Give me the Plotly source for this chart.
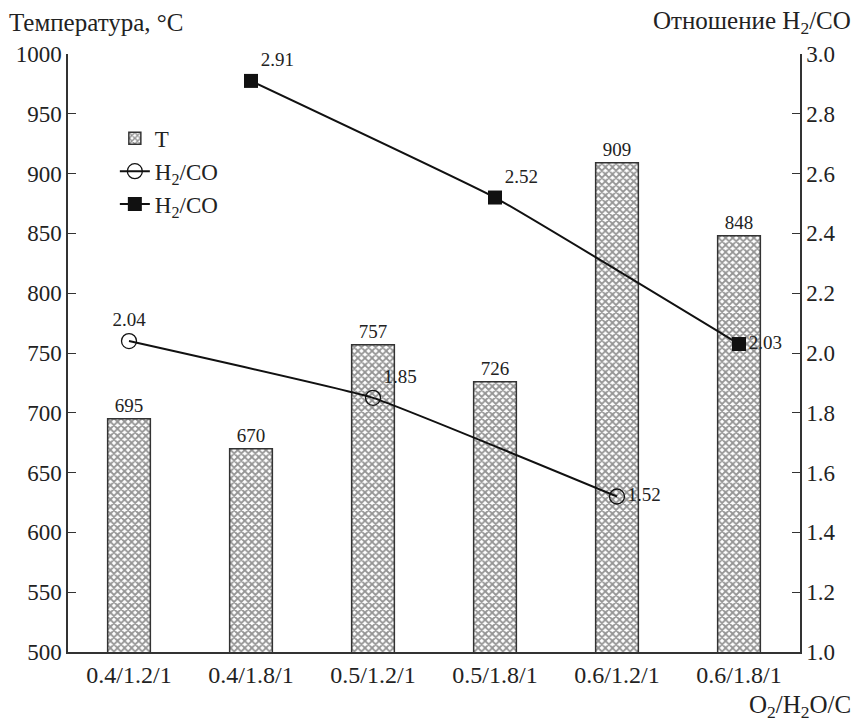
import plotly.graph_objects as go

categories = ["0.4/1.2/1", "0.4/1.8/1", "0.5/1.2/1", "0.5/1.8/1", "0.6/1.2/1", "0.6/1.8/1"]
temperature = [695, 670, 757, 726, 909, 848]
ratio_open_x = ["0.4/1.2/1", "0.5/1.2/1", "0.6/1.2/1"]
ratio_open = [2.04, 1.85, 1.52]
ratio_filled_x = ["0.4/1.8/1", "0.5/1.8/1", "0.6/1.8/1"]
ratio_filled = [2.91, 2.52, 2.03]

FONT = "Liberation Serif, Times New Roman, serif"

fig = go.Figure()
fig.add_trace(go.Bar(
    x=categories, y=temperature, name="T", width=0.35,
    marker=dict(color="white", line=dict(color="#333", width=1.5),
                pattern=dict(shape="x", size=5, solidity=0.6, fgcolor="#2a2a2a", bgcolor="white")),
    text=[str(v) for v in temperature], textposition="outside",
    textfont=dict(family=FONT, size=19, color="#222"), cliponaxis=False,
))
fig.add_trace(go.Scatter(
    x=ratio_open_x, y=ratio_open, yaxis="y2", name="H<sub>2</sub>/CO",
    mode="lines+markers+text", line=dict(color="#111", width=2, shape="spline", smoothing=0.3),
    marker=dict(symbol="circle-open", size=15, color="#111", line=dict(width=1.3)),
    text=[f"{v:.2f}" for v in ratio_open],
    textposition=["top center", "top right", "middle right"],
    textfont=dict(family=FONT, size=19, color="#222"), cliponaxis=False,
))
fig.add_trace(go.Scatter(
    x=ratio_filled_x, y=ratio_filled, yaxis="y2", name="H<sub>2</sub>/CO",
    mode="lines+markers+text", line=dict(color="#111", width=2, shape="spline", smoothing=0.3),
    marker=dict(symbol="square", size=14, color="#111"),
    text=[f"{v:.2f}" for v in ratio_filled],
    textposition=["top right", "top right", "middle right"],
    textfont=dict(family=FONT, size=19, color="#222"), cliponaxis=False,
))

fig.update_layout(
    width=856, height=723,
    margin=dict(l=68, r=56, t=54, b=71, autoexpand=False),
    paper_bgcolor="white", plot_bgcolor="white",
    font=dict(family=FONT, size=22, color="#222"),
    xaxis=dict(type="category", showline=True, linecolor="#333", linewidth=1.5, automargin=False,
               ticks="", showgrid=False, tickfont=dict(size=24)),
    yaxis=dict(range=[500, 1000], dtick=50, showline=True, linecolor="#333", linewidth=1.5,
               ticks="inside", ticklen=8, tickcolor="#333", showgrid=False, zeroline=False,
               automargin=False, tickfont=dict(size=23)),
    yaxis2=dict(range=[1.0, 3.0], dtick=0.2, tickformat=".1f", overlaying="y", side="right",
                showline=True, linecolor="#333", linewidth=1.5, ticks="inside", ticklen=8,
                tickcolor="#333", showgrid=False, zeroline=False, automargin=False,
                tickfont=dict(size=23)),
    legend=dict(x=0.064, y=0.895, xanchor="left", yanchor="top", bgcolor="rgba(0,0,0,0)",
                font=dict(size=23), tracegroupgap=0, itemwidth=30),
    showlegend=True,
    annotations=[
        dict(text="Температура, °C", xref="paper", yref="paper", x=-0.083, y=1.0, yshift=32,
             xanchor="left", yanchor="middle", showarrow=False, font=dict(size=25)),
        dict(text="Отношение H<sub>2</sub>/CO", xref="paper", yref="paper", x=1.072, y=1.0, yshift=32,
             xanchor="right", yanchor="middle", showarrow=False, font=dict(size=25)),
        dict(text="O<sub>2</sub>/H<sub>2</sub>O/C", xref="paper", yref="paper", x=1.072, y=0.0, yshift=-54,
             xanchor="right", yanchor="middle", showarrow=False, font=dict(size=25)),
    ],
)

fig.write_html("out.html", config={"displayModeBar": False},
               post_script="document.body.style.margin='0';document.body.style.overflow='hidden';")
